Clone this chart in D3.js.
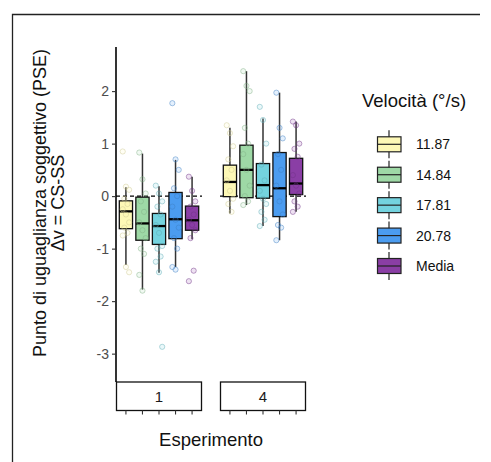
<!DOCTYPE html>
<html><head><meta charset="utf-8">
<script src="https://cdn.jsdelivr.net/npm/d3@7"></script>
<style>body{margin:0;background:#fff}svg{display:block}text{font-family:"Liberation Sans",Arial,sans-serif}</style>
</head><body><svg id="c" width="491" height="462"></svg>
<script>
// ---- data ----
const experiments = ["1", "4"];
const speeds = ["11.87", "14.84", "17.81", "20.78", "Media"];
const colors = ["#fdf8b6", "#9ed9a6", "#74d3df", "#4b9cf0", "#8a3ea5"];
const yTicks = [2, 1, 0, -1, -2, -3];
// box stats per experiment: [whiskerLow, q1, median, q3, whiskerHigh]
const boxExp1 = [
  [-1.31, -0.62, -0.29, -0.09, 0.17],
  [-1.78, -0.84, -0.52, -0.02, 0.81],
  [-1.46, -0.92, -0.57, -0.33, 0.19],
  [-1.35, -0.81, -0.44, 0.07, 0.69],
  [-0.82, -0.65, -0.46, -0.19, 0.37]
];
const boxExp4 = [
  [-0.33, -0.01, 0.27, 0.59, 1.30],
  [-0.17, -0.03, 0.50, 0.97, 2.38],
  [-0.57, -0.04, 0.21, 0.62, 1.48],
  [-0.84, -0.39, 0.15, 0.83, 1.97],
  [-0.30, 0.03, 0.24, 0.72, 1.42]
];
// individual observations
const ptsExp1 = [
  [0.85, 0.18, 0.12, -0.05, -0.15, -0.25, -0.35, -0.5, -0.6, -0.7, -0.75, -1.35, -1.45],
  [0.83, 0.32, 0.05, -0.1, -0.3, -0.5, -0.65, -0.8, -1.0, -1.1, -1.5, -1.8],
  [0.2, 0.05, -0.1, -0.2, -0.35, -0.55, -0.7, -0.95, -1.0, -1.15, -1.25, -1.45, -2.87],
  [1.77, 0.7, 0.5, 0.15, 0.0, -0.2, -0.45, -0.6, -0.8, -1.0, -1.35, -1.4],
  [0.37, 0.1, -0.1, -0.2, -0.35, -0.45, -0.55, -0.65, -0.8, -1.42, -1.62]
];
const ptsExp4 = [
  [1.35, 1.2, 0.95, 0.7, 0.5, 0.3, 0.1, -0.05, -0.15, -0.3],
  [2.38, 2.1, 2.0, 1.3, 1.0, 0.8, 0.5, 0.2, 0.0, -0.1, -0.17],
  [1.7, 1.45, 1.0, 0.6, 0.3, 0.1, -0.05, -0.15, -0.3, -0.45, -0.57],
  [1.97, 1.3, 1.1, 0.8, 0.5, 0.2, -0.1, -0.35, -0.55, -0.6, -0.84],
  [1.42, 1.35, 1.0, 0.9, 0.75, 0.4, 0.2, 0.05, -0.1, -0.2, -0.3]
];
const boxes = [boxExp1, boxExp4];
const points = [ptsExp1, ptsExp4];

// ---- layout ----
const svg = d3.select("#c");
// outer frame (left + top)
svg.append("path").attr("d", "M12.5,462 L12.5,14.5 L480,14.5").attr("fill", "none").attr("stroke", "#222").attr("stroke-width", 1.3);

const y = d3.scaleLinear().domain([-3.54, 2.84]).range([382, 47]);
const panels = [[116, 202], [220, 306]];

panels.forEach((rng, pi) => {
  const x = d3.scaleBand().domain(speeds).range(rng).paddingOuter(0.1).paddingInner(0);
  const g = svg.append("g");
  const bw = x.bandwidth();
  const boxW = bw * 0.8;
  // zero line
  g.append("line").attr("x1", rng[0]).attr("x2", rng[1]).attr("y1", y(0)).attr("y2", y(0))
    .attr("stroke", "#000").attr("stroke-width", 1.1).attr("stroke-dasharray", "4,3");
  // boxes
  speeds.forEach((s, i) => {
    const [lo, q1, med, q3, hi] = boxes[pi][i];
    const cx = x(s) + bw / 2;
    g.append("line").attr("x1", cx).attr("x2", cx).attr("y1", y(hi)).attr("y2", y(q3)).attr("stroke", "#333").attr("stroke-width", 1.5);
    g.append("line").attr("x1", cx).attr("x2", cx).attr("y1", y(q1)).attr("y2", y(lo)).attr("stroke", "#333").attr("stroke-width", 1.5);
    g.append("rect").attr("x", cx - boxW / 2).attr("width", boxW).attr("y", y(q3)).attr("height", y(q1) - y(q3))
      .attr("fill", colors[i]).attr("stroke", "#111").attr("stroke-width", 1.3);
    g.append("line").attr("x1", cx - boxW / 2).attr("x2", cx + boxW / 2).attr("y1", y(med)).attr("y2", y(med)).attr("stroke", "#000").attr("stroke-width", 2.3);
    // jittered points (deterministic offsets)
    const col = d3.color(colors[i]).darker(0.6);
    g.selectAll(null).data(points[pi][i]).join("circle")
      .attr("cx", (d, k) => cx + ((k * 7) % 5 - 2) * 1.6)
      .attr("cy", d => y(d)).attr("r", 2.6)
      .attr("fill", colors[i]).attr("fill-opacity", 0.15)
      .attr("stroke", col).attr("stroke-opacity", 0.45).attr("stroke-width", 1);
  });
  // strip
  g.append("rect").attr("x", rng[0] + 0.5).attr("y", 382).attr("width", rng[1] - rng[0] - 1).attr("height", 28.5)
    .attr("fill", "#fff").attr("stroke", "#111").attr("stroke-width", 1.3);
  g.append("text").attr("x", (rng[0] + rng[1]) / 2).attr("y", 402).attr("text-anchor", "middle")
    .attr("font-size", 15).attr("fill", "#1a1a1a").text(experiments[pi]);
  // x ticks below strip
  const ax = g.append("g").attr("transform", "translate(0,410.5)").call(d3.axisBottom(x).tickSize(4).tickFormat(""));
  ax.select(".domain").remove();
  ax.selectAll("line").attr("stroke", "#333").attr("stroke-width", 1.1);
});

// y axis
const ya = svg.append("g").attr("transform", "translate(116,0)").call(d3.axisLeft(y).tickValues(yTicks).tickSize(4).tickPadding(3).tickFormat(d3.format("d")));
ya.select(".domain").attr("d", `M0,${y.range()[1]}V${y.range()[0]}`).attr("stroke", "#000").attr("stroke-width", 1.6);
ya.selectAll(".tick line").attr("stroke", "#333").attr("stroke-width", 1.1);
ya.selectAll(".tick text").attr("font-size", 14).attr("fill", "#4d4d4d").attr("font-family", "Liberation Sans, Arial, sans-serif")
  .text(d => d < 0 ? "-" + Math.abs(d) : d);

// y title
const yt = svg.append("text").attr("transform", "translate(0,203) rotate(-90)").attr("text-anchor", "middle")
  .attr("font-size", 18).attr("fill", "#111");
yt.append("tspan").attr("x", 0).attr("y", 46).text("Punto di uguaglianza soggettivo (PSE)");
yt.append("tspan").attr("x", 0).attr("y", 64).text("Δv = CS-SS");

// x title
svg.append("text").attr("x", 211).attr("y", 446).attr("text-anchor", "middle").attr("font-size", 18.5).attr("fill", "#111").text("Esperimento");

// legend
const lg = svg.append("g");
lg.append("text").attr("x", 362).attr("y", 107).attr("font-size", 18.5).attr("fill", "#111").text("Velocità (°/s)");
const ly = d3.scalePoint().domain(speeds).range([144.3, 266]);
speeds.forEach((s, i) => {
  const cy = ly(s);
  lg.append("line").attr("x1", 389).attr("x2", 389).attr("y1", cy - 14).attr("y2", cy + 14).attr("stroke", "#333").attr("stroke-width", 1.3);
  lg.append("rect").attr("x", 377.5).attr("y", cy - 7.5).attr("width", 23.5).attr("height", 15)
    .attr("fill", colors[i]).attr("stroke", "#222").attr("stroke-width", 1.2);
  lg.append("line").attr("x1", 377.5).attr("x2", 401).attr("y1", cy).attr("y2", cy).attr("stroke", "#222").attr("stroke-width", 1.2);
  lg.append("text").attr("x", 416).attr("y", cy + 5).attr("font-size", 14).attr("fill", "#111").text(s);
});
</script></body></html>
